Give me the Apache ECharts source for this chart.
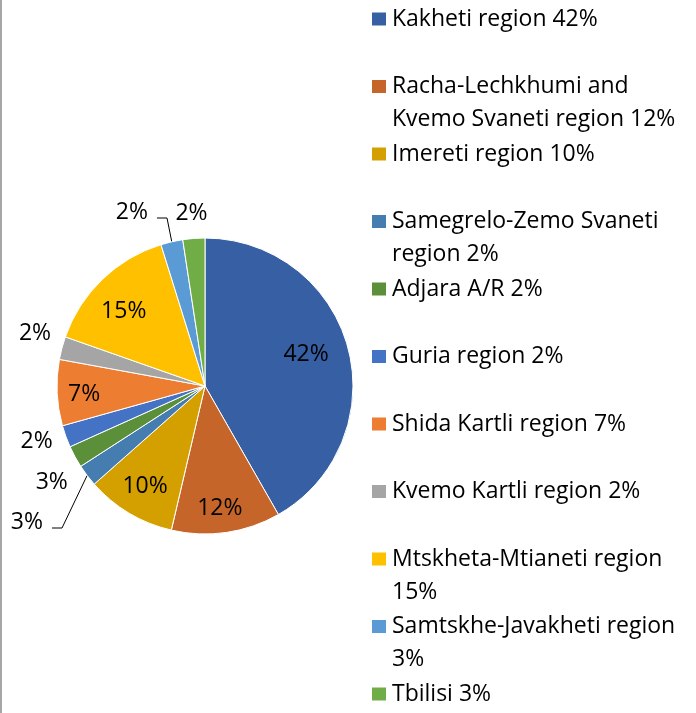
<!DOCTYPE html>
<html>
<head>
<meta charset="utf-8">
<style>
  html, body { margin: 0; padding: 0; background: #fff; }
  #chart { width: 696px; height: 713px; }
</style>
<script src="https://cdn.jsdelivr.net/npm/echarts@6/dist/echarts.min.js"></script>
</head>
<body>
<div id="chart"></div>
<script>
// regions, clockwise from 12 o'clock
var names = ['Kakheti', 'Racha-Lechkhumi and Kvemo Svaneti', 'Imereti', 'Samegrelo-Zemo Svaneti',
  'Adjara A/R', 'Guria', 'Shida Kartli', 'Kvemo Kartli', 'Mtskheta-Mtianeti', 'Samtskhe-Javakheti', 'Tbilisi'];
// slice sizes (share, %)
var values = [41.7, 11.9, 9.8, 2.4, 2.4, 2.4, 7.2, 2.5, 14.8, 2.4, 2.4];
// data labels as printed on the pie
var pctLabels = ['42%', '12%', '10%', '3%', '3%', '2%', '7%', '2%', '15%', '2%', '2%'];
// legend entries as printed (line breaks as in the picture)
var legendText = ['Kakheti region 42%', 'Racha-Lechkhumi and\nKvemo Svaneti region 12%', 'Imereti region 10%',
  'Samegrelo-Zemo Svaneti\nregion 2%', 'Adjara A/R 2%', 'Guria region 2%', 'Shida Kartli region 7%',
  'Kvemo Kartli region 2%', 'Mtskheta-Mtianeti region\n15%', 'Samtskhe-Javakheti region\n3%', 'Tbilisi 3%'];
var colors = ['#375FA3', '#C5652A', '#D4A000', '#467DB0', '#5B8F3A', '#4472C4',
  '#ED7D31', '#A5A5A5', '#FFC000', '#5B9BD5', '#70AD47'];

var insideIdx = [0, 1, 2, 6, 8];
var outerIdx = [4, 5, 7, 10];
var leaderIdx = [3, 9];

var FONT = 'Open Sans';
var C = [205, 386], R = 148;

// small nudges so labels sit where Excel put them
var nudge = { 0: [-12, -2], 1: [-2, 7], 6: [-4, 3], 8: [0, 10], 4: [4, 11], 5: [0, -6], 7: [3, -7], 10: [0, 6] };

var chart = echarts.init(document.getElementById('chart'));

function makeData(showIdx) {
  return names.map(function (n, i) {
    return {
      name: n,
      value: values[i],
      label: { show: showIdx.indexOf(i) >= 0 },
      labelLine: { show: showIdx.indexOf(i) >= 0 }
    };
  });
}

function nudgeLayout(p) {
  var d = nudge[p.dataIndex];
  return d ? { dx: d[0], dy: d[1] } : {};
}

// legends: one per entry, stacked down the right side
var legends = names.map(function (n, i) {
  var c = 19 + 67.5 * i;
  var multi = legendText[i].indexOf('\n') >= 0;
  return {
    orient: 'vertical',
    left: 370,
    top: multi ? c - 49.5 : c - 16.5,
    padding: 0,
    icon: 'rect',
    itemWidth: 16,
    itemHeight: 15,
    selectedMode: false,
    data: [{ name: n, itemStyle: { color: colors[i] } }],
    // blank line on top keeps the first line level with the marker
    formatter: function () { return multi ? '\n' + legendText[i] : legendText[i]; },
    textStyle: { fontFamily: FONT, fontSize: 23, color: '#000', lineHeight: 33 }
  };
});

// label positions for the two callouts with leader lines
var leaderPos = { 3: [43, 522], 9: [148, 212] };

var option = {
  animation: false,
  color: colors,
  legend: legends,
  graphic: [{
    type: 'rect', left: 0, top: 0,
    shape: { width: 2, height: 713 },
    style: { fill: '#A6A6A6' }
  }],
  series: [
    {
      type: 'pie',
      center: C,
      radius: R,
      startAngle: 90,
      avoidLabelOverlap: false,
      itemStyle: { borderColor: '#fff', borderWidth: 1 },
      label: {
        position: 'outside',
        formatter: function (p) { return pctLabels[p.dataIndex]; },
        fontFamily: FONT, fontSize: 23, color: '#000'
      },
      labelLine: { lineStyle: { color: '#000', width: 1 } },
      labelLayout: function (p) {
        var pos = leaderPos[p.dataIndex];
        if (!pos || !p.labelLinePoints) return {};
        return {
          x: pos[0], y: pos[1], align: 'right', verticalAlign: 'middle',
          labelLinePoints: [p.labelLinePoints[0], [pos[0] + 19, pos[1] + 6], [pos[0] + 9, pos[1] + 6]]
        };
      },
      emphasis: { disabled: true },
      data: makeData(leaderIdx)
    },
    {
      // transparent ring, carries the labels printed inside the slices
      type: 'pie',
      center: C,
      radius: [80, R],
      startAngle: 90,
      silent: true,
      avoidLabelOverlap: false,
      itemStyle: { color: 'rgba(0,0,0,0)', borderWidth: 0 },
      label: {
        position: 'inside',
        formatter: function (p) { return pctLabels[p.dataIndex]; },
        fontFamily: FONT, fontSize: 23, color: '#000'
      },
      labelLine: { show: false },
      labelLayout: nudgeLayout,
      data: makeData(insideIdx)
    },
    {
      // transparent ring outside the pie, carries the small-slice labels
      type: 'pie',
      center: C,
      radius: [160, 192],
      startAngle: 90,
      silent: true,
      avoidLabelOverlap: false,
      itemStyle: { color: 'rgba(0,0,0,0)', borderWidth: 0 },
      label: {
        position: 'inside',
        formatter: function (p) { return pctLabels[p.dataIndex]; },
        fontFamily: FONT, fontSize: 23, color: '#000'
      },
      labelLine: { show: false },
      labelLayout: nudgeLayout,
      data: makeData(outerIdx)
    }
  ]
};

chart.setOption(option);
</script>
</body>
</html>
